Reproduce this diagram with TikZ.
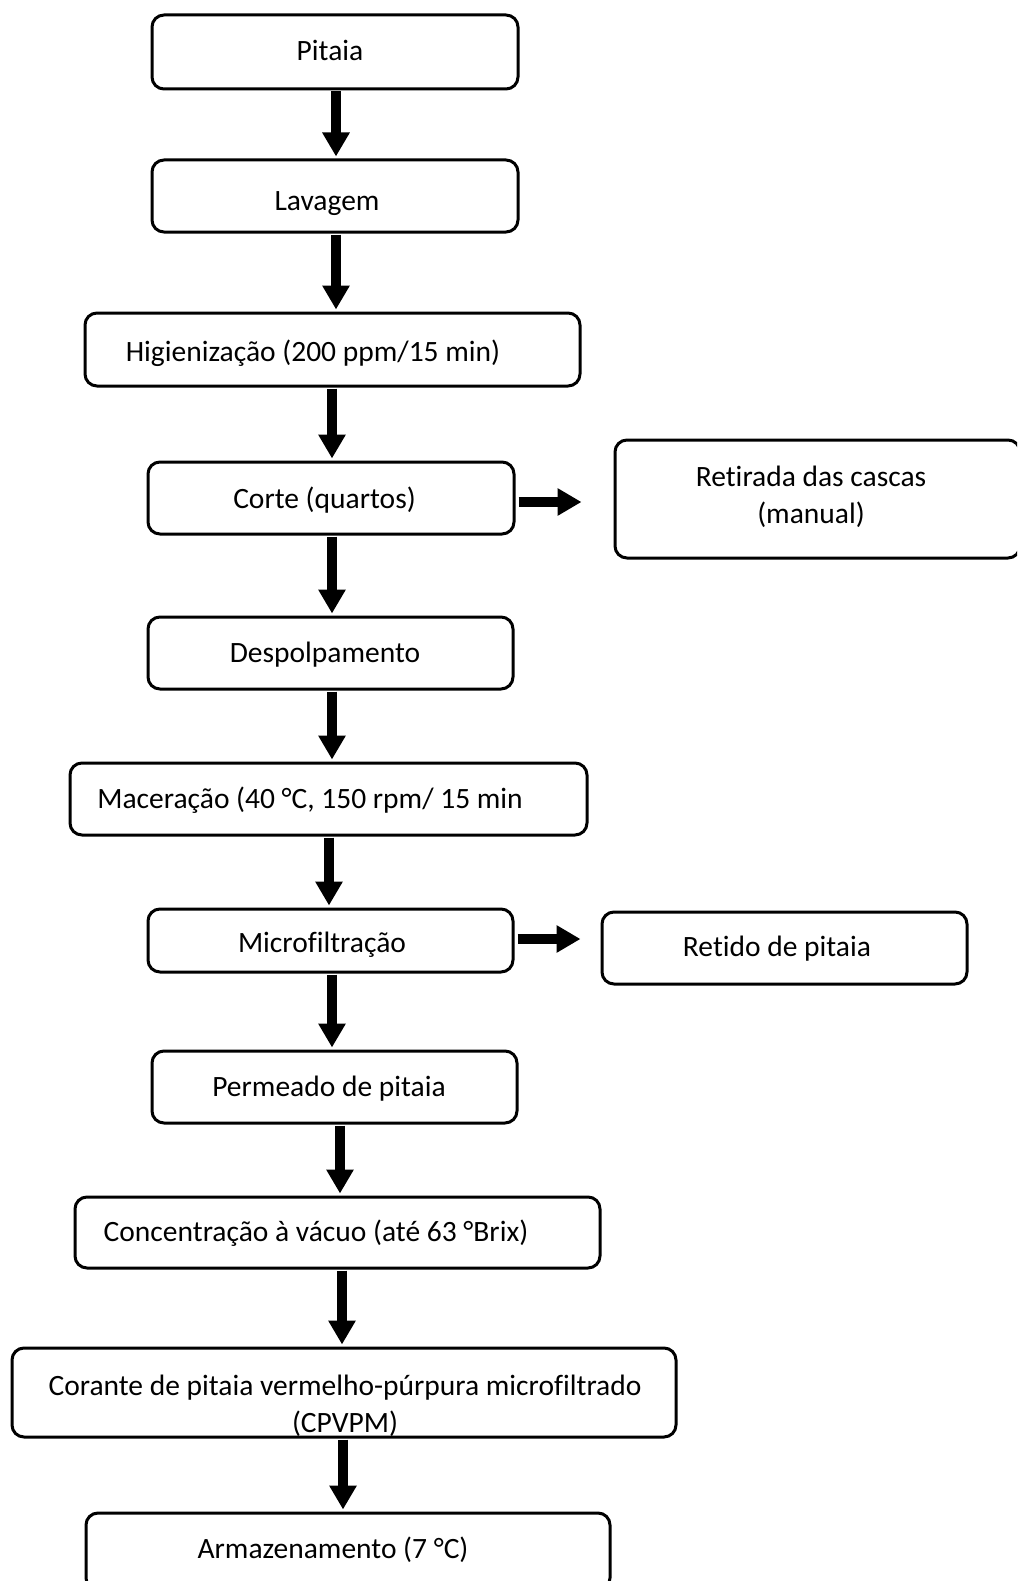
\documentclass[tikz,border=0pt]{standalone}
\usepackage{fontspec}
\setmainfont[RawFeature=-liga]{Carlito}
\usetikzlibrary{arrows.meta}
\begin{document}
\begin{tikzpicture}[x=1pt,y=-1pt,
  box/.style={draw=black,line width=3pt,rounded corners=12pt,fill=white,inner sep=0pt},
  txt/.style={anchor=base,inner sep=0pt,font=\fontsize{29.5}{37}\selectfont,align=center},
  arr/.style={line width=10pt,-{Triangle[width=26pt,length=24pt]},shorten >=2pt,shorten <=1pt}]
\clip (0,0) rectangle (1017,1581);
\fill[white] (0,0) rectangle (1017,1581);
% boxes
\node[box,minimum width=366pt,minimum height=74pt] (b1) at (335,52) {};
\node[box,minimum width=366pt,minimum height=72pt] (b2) at (335,196) {};
\node[box,minimum width=495pt,minimum height=73pt] (b3) at (332.5,349.5) {};
\node[box,minimum width=366pt,minimum height=72pt] (b4) at (331,498) {};
\node[box,minimum width=405pt,minimum height=118pt] (b5) at (817.5,499) {};
\node[box,minimum width=365pt,minimum height=72pt] (b6) at (330.5,653) {};
\node[box,minimum width=517pt,minimum height=72pt] (b7) at (328.5,799) {};
\node[box,minimum width=365pt,minimum height=63pt] (b8) at (330.5,940.5) {};
\node[box,minimum width=365pt,minimum height=72pt] (b9) at (784.5,948) {};
\node[box,minimum width=365pt,minimum height=72pt] (b10) at (334.5,1087) {};
\node[box,minimum width=525pt,minimum height=71pt] (b11) at (337.5,1232.5) {};
\node[box,minimum width=664pt,minimum height=89pt] (b12) at (344,1392.5) {};
\node[box,minimum width=524pt,minimum height=77pt] (b13) at (348,1551.5) {};
% texts
\node[txt] (t1) at (330,61) {Pitaia};
\node[txt] (t2) at (327,210) {Lavagem};
\node[txt] (t3) at (313,361) {Higienização (200 ppm/15 min)};
\node[txt] (t4) at (324.5,508) {Corte (quartos)};
\node[txt,anchor=center] (t5) at (811,497) {Retirada das cascas\\(manual)};
\node[txt] (t6) at (325,662) {Despolpamento};
\node[txt] (t7) at (310,808) {Maceração (40 °C, 150 rpm/ 15 min};
\node[txt] (t8) at (322,952) {Microfiltração};
\node[txt] (t9) at (777,956) {Retido de pitaia};
\node[txt] (t10) at (329,1096) {Permeado de pitaia};
\node[txt] (t11) at (316,1241) {Concentração à vácuo (até 63 °Brix)};
\node[txt,anchor=center] (t12) at (345,1406) {Corante de pitaia vermelho-púrpura microfiltrado\\(CPVPM)};
\node[txt] (t13) at (333,1558) {Armazenamento (7 °C)};
% arrow columns
\coordinate (x1) at (336,0);
\coordinate (x3) at (332,0);
\coordinate (x6) at (329,0);
\coordinate (x8) at (340,0);
\coordinate (x9) at (342,0);
\coordinate (x10) at (343,0);
\draw[arr] (b1.south -| x1) -- (b2.north -| x1);
\draw[arr] (b2.south -| x1) -- (b3.north -| x1);
\draw[arr] (b3.south -| x3) -- (b4.north -| x3);
\draw[arr] (b4.south -| x3) -- (b6.north -| x3);
\draw[arr] (b6.south -| x3) -- (b7.north -| x3);
\draw[arr] (b7.south -| x6) -- (b8.north -| x6);
\draw[arr] (b8.south -| x3) -- (b10.north -| x3);
\draw[arr] (b10.south -| x8) -- (b11.north -| x8);
\draw[arr] (b11.south -| x9) -- (b12.north -| x9);
\draw[arr] (b12.south -| x10) -- (b13.north -| x10);
% side arrows
\coordinate (h1) at (0,502);
\coordinate (h2) at (0,939);
\draw[arr,shorten >=32pt,shorten <=3pt] (b4.east |- h1) -- (b5.west |- h1);
\draw[arr,shorten >=20pt,shorten <=3pt] (b8.east |- h2) -- (b9.west |- h2);
\end{tikzpicture}
\end{document}
